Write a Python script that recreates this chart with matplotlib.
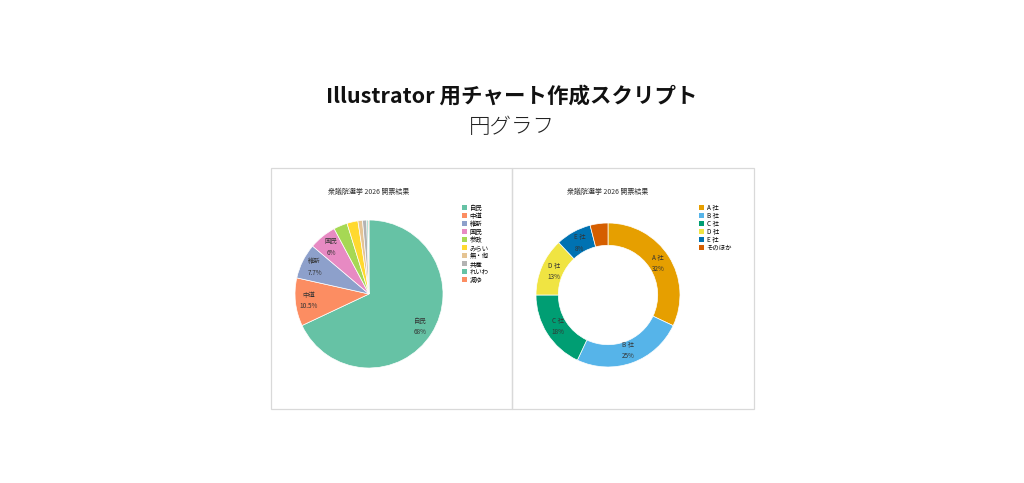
import numpy as np
import matplotlib
matplotlib.use("Agg")
import matplotlib.pyplot as plt
from matplotlib.patches import Rectangle
from matplotlib.lines import Line2D

plt.rcParams['font.family'] = ['Noto Sans CJK JP', 'DejaVu Sans']

# data
party_names = ["自民", "中道", "維新", "国民", "参政", "みらい", "無・他", "共産", "れいわ", "減ゆ"]
party_vals = [68, 10.5, 7.7, 6, 3, 2.4, 1, 0.9, 0.3, 0.2]
party_colors = ["#66c2a5", "#fc8d62", "#8da0cb", "#e78ac3", "#a6d854", "#ffd92f",
                "#e5c494", "#b3b3b3", "#66c2a5", "#fc8d62"]

firm_names = ["A 社", "B 社", "C 社", "D 社", "E 社", "そのほか"]
firm_vals = [32, 25, 18, 13, 8, 4]
firm_colors = ["#E69F00", "#56B4E9", "#009E73", "#F0E442", "#0072B2", "#D55E00"]

chart_title = "衆議院選挙 2026 開票結果"

W, H = 1024, 483
fig = plt.figure(figsize=(W / 100, H / 100), dpi=100)
fig.patch.set_facecolor("white")

fig.text(0.5, 1 - 96 / H, "Illustrator 用チャート作成スクリプト", ha="center", va="center",
         fontsize=15.45, fontweight="bold", color="#111111")
fig.text(0.5, 1 - 127 / H, "円グラフ", ha="center", va="center",
         fontsize=15.5, fontweight="light", color="#222222")

# panel frames
for x0, x1 in [(271, 512), (512, 754)]:
    fig.patches.append(Rectangle((x0 / W, 1 - 409 / H), (x1 - x0) / W, 241 / H,
                                 transform=fig.transFigure, fill=False,
                                 edgecolor="#d9d9d9", linewidth=0.9))


def fmt_pct(v):
    return f"{v:g}%"


def draw(cx, cy, r, vals, names, colors, min_label, donut, leg_x):
    ax = fig.add_axes([(cx - r) / W, 1 - (cy + r) / H, 2 * r / W, 2 * r / H])
    wp = dict(edgecolor="white", linewidth=0.5)
    if donut:
        wp["width"] = 0.31
    wedges, _ = ax.pie(vals, colors=colors, startangle=90, counterclock=False,
                       radius=1, wedgeprops=wp)
    ax.set_xlim(-1, 1)
    ax.set_ylim(-1, 1)
    ax.set_aspect("equal")
    ax.axis("off")
    for w, n, v in zip(wedges, names, vals):
        if v < min_label:
            continue
        ang = np.deg2rad((w.theta1 + w.theta2) / 2)
        d = 0.82
        ax.text(d * np.cos(ang), d * np.sin(ang), n + "\n" + fmt_pct(v),
                ha="center", va="center", fontsize=4.6, color="#333333",
                linespacing=1.6)
    fig.text(cx / W, 1 - 192 / H, chart_title, ha="center", va="center",
             fontsize=5, color="#333333")
    # square markers so every legend row has the same height
    handles = [Line2D([], [], marker="s", linestyle="", markersize=3.6,
                      markerfacecolor=w.get_facecolor(), markeredgewidth=0)
               for w in wedges]
    ax.legend(handles, names, loc="upper left",
              bbox_to_anchor=(leg_x / W, 1 - 204 / H), bbox_transform=fig.transFigure,
              frameon=False, fontsize=4.6, handlelength=0.75, handleheight=1.24,
              handletextpad=0.45, labelspacing=0.0, borderaxespad=0, borderpad=0)


draw(369, 294, 74, party_vals, party_names, party_colors, 5, False, 462)
draw(608, 295, 72, firm_vals, firm_names, firm_colors, 5, True, 699)

fig.savefig("out.png", dpi=100, facecolor="white")
